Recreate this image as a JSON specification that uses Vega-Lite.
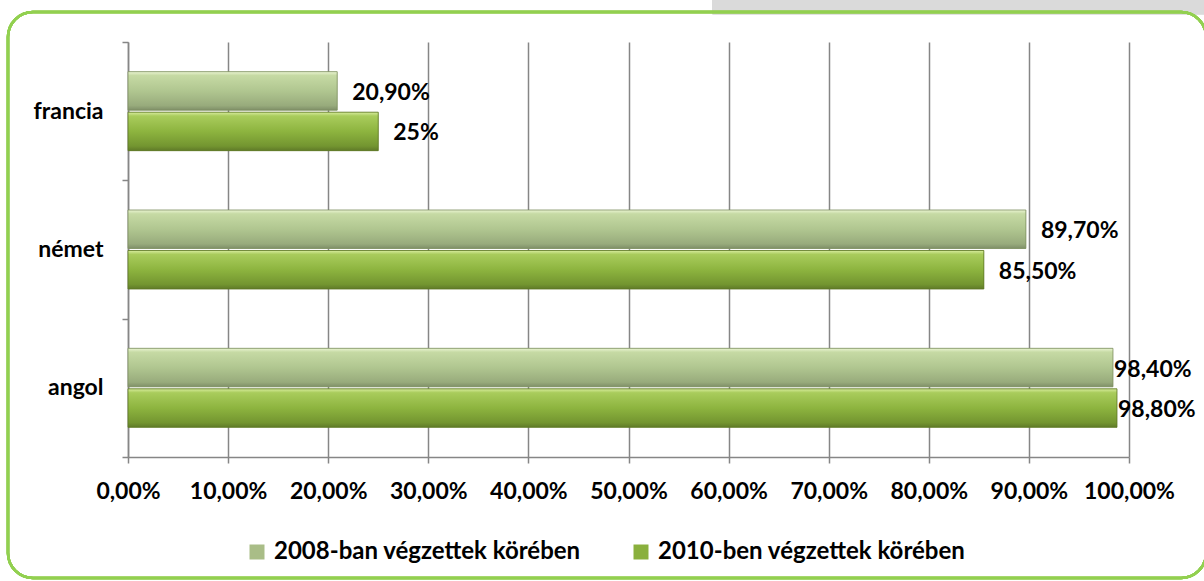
{
  "$schema": "https://vega.github.io/schema/vega-lite/v6.json",
  "width": 1001,
  "height": 415,
  "autosize": {"type": "none"},
  "padding": {"left": 128, "top": 42, "right": 75, "bottom": 124},
  "background": "white",
  "config": {
    "view": {"stroke": null},
    "font": "Lato",
    "locale": {"number": {"decimal": ",", "thousands": " ", "grouping": [3], "currency": ["", " Ft"]}}
  },
  "data": {
    "values": [
      {"nyelv": "francia", "sorozat": "2008-ban végzettek körében", "ertek": 0.209, "label": "20,90%"},
      {"nyelv": "francia", "sorozat": "2010-ben végzettek körében", "ertek": 0.25, "label": "25%"},
      {"nyelv": "német", "sorozat": "2008-ban végzettek körében", "ertek": 0.897, "label": "89,70%"},
      {"nyelv": "német", "sorozat": "2010-ben végzettek körében", "ertek": 0.855, "label": "85,50%"},
      {"nyelv": "angol", "sorozat": "2008-ban végzettek körében", "ertek": 0.984, "label": "98,40%"},
      {"nyelv": "angol", "sorozat": "2010-ben végzettek körében", "ertek": 0.988, "label": "98,80%"}
    ]
  },
  "resolve": {"scale": {"y": "independent"}, "axis": {"y": "independent"}},
  "layer": [
    {
      "mark": {"type": "rect", "fill": "#dadada"},
      "encoding": {
        "x": {"datum": 0.584, "type": "quantitative", "scale": {"domain": [0, 1]}},
        "x2": {"datum": 1.2},
        "y": {"datum": 1.2, "type": "quantitative", "scale": {"domain": [0, 1], "nice": false, "zero": false}, "axis": null},
        "y2": {"datum": 1.067}
      }
    },
    {
      "mark": {"type": "rect", "fill": null, "stroke": "#92d050", "strokeWidth": 2.5, "cornerRadius": 25},
      "encoding": {
        "x": {"datum": -0.1199, "type": "quantitative", "scale": {"domain": [0, 1]}},
        "x2": {"datum": 1.077},
        "y": {"datum": 1.0723, "type": "quantitative", "scale": {"domain": [0, 1], "nice": false, "zero": false}, "axis": null},
        "y2": {"datum": -0.2916}
      }
    },
    {
      "encoding": {
        "y": {
          "field": "nyelv", "type": "nominal", "sort": ["francia", "német", "angol"],
          "scale": {"paddingInner": 0, "paddingOuter": 0},
          "axis": {
            "title": null, "tickBand": "extent", "domainColor": "#868686", "domainWidth": 1.5,
            "tickColor": "#868686", "tickWidth": 1.5, "tickSize": 6,
            "labelFont": "Lato", "labelFontWeight": "bold", "labelFontSize": 23, "labelColor": "black",
            "labelPadding": 19
          }
        },
        "yOffset": {
          "field": "sorozat", "type": "nominal",
          "sort": ["2008-ban végzettek körében", "2010-ben végzettek körében"],
          "scale": {"paddingInner": 0.05, "paddingOuter": 0.732}
        }
      },
      "layer": [
        {
          "mark": {"type": "bar"},
          "encoding": {
            "x": {
              "field": "ertek", "type": "quantitative",
              "scale": {"domain": [0, 1], "nice": false},
              "axis": {
                "title": null, "format": ".2%", "values": [0, 0.1, 0.2, 0.3, 0.4, 0.5, 0.6, 0.7, 0.8, 0.9, 1],
                "grid": true, "gridColor": "#868686", "gridWidth": 1.5,
                "domainColor": "#868686", "domainWidth": 1.5,
                "tickColor": "#868686", "tickWidth": 1.5, "tickSize": 6,
                "labelFont": "Lato", "labelFontWeight": "bold", "labelFontSize": 23, "labelColor": "black",
                "labelPadding": 17, "labelFlush": false
              }
            },
            "color": {
              "field": "sorozat", "type": "nominal",
              "scale": {
                "domain": ["2008-ban végzettek körében", "2010-ben végzettek körében"],
                "range": ["#a9bd87", "#8ab03d"]
              },
              "legend": {
                "title": null, "orient": "none", "direction": "horizontal",
                "legendX": 117, "legendY": 498,
                "symbolType": "square", "symbolSize": 225, "symbolStrokeWidth": 0,
                "labelFont": "Lato", "labelFontWeight": "bold", "labelFontSize": 24, "labelColor": "black",
                "labelOffset": 5, "columnPadding": 48, "labelLimit": 400
              }
            }
          }
        },
        {
          "transform": [{"filter": "datum.sorozat == '2008-ban végzettek körében'"}],
          "mark": {
            "type": "bar", "stroke": "#7d8f60", "strokeWidth": 0.8,
            "fill": {"gradient": "linear", "x1": 0, "y1": 0, "x2": 0, "y2": 1, "stops": [{"offset": 0, "color": "#eaf4d2"}, {"offset": 0.1, "color": "#c6daa4"}, {"offset": 0.5, "color": "#b0c690"}, {"offset": 0.88, "color": "#98ab7c"}, {"offset": 1, "color": "#7f8f68"}]}
          },
          "encoding": {"x": {"field": "ertek", "type": "quantitative"}}
        },
        {
          "transform": [{"filter": "datum.sorozat == '2010-ben végzettek körében'"}],
          "mark": {
            "type": "bar", "stroke": "#5d7625", "strokeWidth": 0.8,
            "fill": {"gradient": "linear", "x1": 0, "y1": 0, "x2": 0, "y2": 1, "stops": [{"offset": 0, "color": "#d8ec9e"}, {"offset": 0.1, "color": "#a9cc5c"}, {"offset": 0.5, "color": "#8db43f"}, {"offset": 0.88, "color": "#739530"}, {"offset": 1, "color": "#5f7a28"}]}
          },
          "encoding": {"x": {"field": "ertek", "type": "quantitative"}}
        },
        {
          "transform": [{"filter": "datum.ertek < 0.95"}],
          "mark": {"type": "text", "align": "left", "baseline": "middle", "dx": 15, "dy": 2, "font": "Lato", "fontWeight": "bold", "fontSize": 23, "color": "black"},
          "encoding": {
            "x": {"field": "ertek", "type": "quantitative"},
            "text": {"field": "label"}
          }
        },
        {
          "transform": [{"filter": "datum.ertek >= 0.95"}],
          "mark": {"type": "text", "align": "left", "baseline": "middle", "dx": 1, "dy": 2, "font": "Lato", "fontWeight": "bold", "fontSize": 23, "color": "black"},
          "encoding": {
            "x": {"field": "ertek", "type": "quantitative"},
            "text": {"field": "label"}
          }
        }
      ]
    }
  ]
}
